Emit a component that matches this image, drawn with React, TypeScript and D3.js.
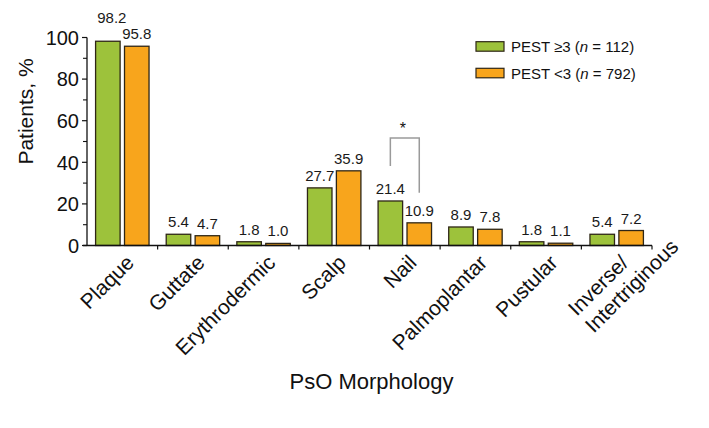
import React, { useEffect, useRef } from 'react';
import * as d3 from 'd3';

const categories = ['Plaque', 'Guttate', 'Erythrodermic', 'Scalp', 'Nail', 'Palmoplantar', 'Pustular', 'Inverse/|Intertriginous'];
const pestHigh = [98.2, 5.4, 1.8, 27.7, 21.4, 8.9, 1.8, 5.4];
const pestLow = [95.8, 4.7, 1.0, 35.9, 10.9, 7.8, 1.1, 7.2];
const seriesNames = ['PEST ≥3', 'PEST <3'];
const seriesN = [112, 792];
const yTicks = [0, 20, 40, 60, 80, 100];
const yMinorTicks = [10, 30, 50, 70, 90];
const significantCategory = 'Nail';
const yTitle = 'Patients, %';
const xTitle = 'PsO Morphology';

const W = 709;
const H = 428;
const COLORS = ['#9dc23b', '#f8a51c'];
const FONT = "'Liberation Sans', Arial, Helvetica, sans-serif";

export default function App() {
  const ref = useRef<SVGSVGElement | null>(null);

  useEffect(() => {
    document.body.style.margin = '0';
    const svg = d3.select(ref.current);
    svg.selectAll('*').remove();

    const x0 = 87, x1 = 652;
    const x = d3.scaleBand<string>().domain(categories).range([x0, x1]).padding(0);
    const xs = d3.scaleBand<string>().domain(['0', '1']).range([0, x.bandwidth()]).paddingInner(0.152).paddingOuter(0.297);
    const y = d3.scaleLinear().domain([0, 100]).range([245.5, 37.5]);

    const data = categories.map((c, i) => ({ c, vals: [pestHigh[i], pestLow[i]] }));

    // bars
    const g = svg.append('g');
    data.forEach((d) => {
      d.vals.forEach((v, j) => {
        g.append('rect')
          .attr('x', (x(d.c) as number) + (xs(String(j)) as number))
          .attr('y', y(v))
          .attr('width', xs.bandwidth())
          .attr('height', y(0) - y(v))
          .attr('fill', COLORS[j])
          .attr('stroke', '#2e2616')
          .attr('stroke-width', 1.3);
      });
    });

    // value labels
    data.forEach((d) => {
      d.vals.forEach((v, j) => {
        const other = d.vals[1 - j];
        const lift = v > 90 && other > 90 && v > other ? 11 : 0;
        g.append('text')
          .attr('x', (x(d.c) as number) + (xs(String(j)) as number) + xs.bandwidth() / 2 + (lift ? 4 : 0))
          .attr('y', y(v) - 7 - lift)
          .attr('text-anchor', 'middle')
          .attr('font-family', FONT)
          .attr('font-size', 15)
          .attr('fill', '#1a1a1a')
          .text(v.toFixed(1));
      });
    });

    // y axis
    const ax = svg.append('g');
    ax.append('line').attr('x1', x0).attr('x2', x0).attr('y1', y(100)).attr('y2', y(0)).attr('stroke', '#111').attr('stroke-width', 1.3);
    yTicks.forEach((t) => {
      ax.append('line').attr('x1', x0 - 5).attr('x2', x0).attr('y1', y(t)).attr('y2', y(t)).attr('stroke', '#111').attr('stroke-width', 1.2);
      ax.append('text').attr('x', x0 - 8).attr('y', y(t)).attr('dy', '0.36em')
        .attr('text-anchor', 'end').attr('font-family', FONT).attr('font-size', 20).attr('fill', '#111').text(String(t));
    });
    yMinorTicks.forEach((t) => {
      ax.append('line').attr('x1', x0 - 4).attr('x2', x0).attr('y1', y(t)).attr('y2', y(t)).attr('stroke', '#111').attr('stroke-width', 1.1);
    });

    // x axis
    ax.append('line').attr('x1', x0 - 4).attr('x2', x1).attr('y1', y(0)).attr('y2', y(0)).attr('stroke', '#111').attr('stroke-width', 1.3);
    categories.forEach((c) => {
      const xb = (x(c) as number) + x.bandwidth();
      ax.append('line').attr('x1', xb).attr('x2', xb).attr('y1', y(0)).attr('y2', y(0) + 4).attr('stroke', '#111').attr('stroke-width', 1.2);
    });

    // x labels
    categories.forEach((c) => {
      const cx = (x(c) as number) + x.bandwidth() / 2 + 13;
      const cy = 264;
      const lines = c.split('|');
      const tg = ax.append('g').attr('transform', `translate(${cx},${cy}) rotate(-45)`);
      const t1 = tg.append('text').attr('x', 0).attr('y', 0).attr('text-anchor', 'end')
        .attr('font-family', FONT).attr('font-size', 21).attr('fill', '#111').text(lines[0]);
      if (lines.length > 1) {
        const w1 = (t1.node() as SVGTextElement).getComputedTextLength();
        tg.append('text').attr('x', -w1).attr('y', 24).attr('text-anchor', 'start')
          .attr('font-family', FONT).attr('font-size', 21).attr('fill', '#111').text(lines[1]);
      }
    });

    // titles
    svg.append('text').attr('transform', `translate(33,${(y(0) + y(100)) / 2 - 30}) rotate(-90)`)
      .attr('text-anchor', 'middle').attr('font-family', FONT).attr('font-size', 21).attr('fill', '#111').text(yTitle);
    svg.append('text').attr('x', (x0 + x1) / 2 + 2).attr('y', 389)
      .attr('text-anchor', 'middle').attr('font-family', FONT).attr('font-size', 22).attr('fill', '#111').text(xTitle);

    // significance bracket
    const si = categories.indexOf(significantCategory);
    const bxL = (x(significantCategory) as number) + (xs('0') as number) + xs.bandwidth() / 2;
    const bxR = (x(significantCategory) as number) + (xs('1') as number) + xs.bandwidth() / 2;
    const yL = y(pestHigh[si]) - 35;
    const yR = y(pestLow[si]) - 30;
    const yTop = Math.min(yL, yR) - 28;
    svg.append('path').attr('d', `M${bxL},${yL}V${yTop}H${bxR}V${yR}`)
      .attr('fill', 'none').attr('stroke', '#9a9a9a').attr('stroke-width', 1.5);
    svg.append('text').attr('x', (bxL + bxR) / 2 - 2).attr('y', yTop - 4).attr('text-anchor', 'middle')
      .attr('font-family', FONT).attr('font-size', 16).attr('fill', '#111').text('*');

    // legend
    const lg = svg.append('g');
    seriesNames.forEach((s, j) => {
      const ly = 41.7 + j * 26.6;
      lg.append('rect').attr('x', 476).attr('y', ly).attr('width', 28).attr('height', 9.5)
        .attr('fill', COLORS[j]).attr('stroke', '#2e2616').attr('stroke-width', 1.2);
      const t = lg.append('text').attr('x', 511).attr('y', ly + 10.5)
        .attr('font-family', FONT).attr('font-size', 15).attr('fill', '#111');
      t.append('tspan').text(`${s} (`);
      t.append('tspan').attr('font-style', 'italic').text('n');
      t.append('tspan').text(` = ${seriesN[j]})`);
    });
  }, []);

  return <svg ref={ref} width={W} height={H} style={{ display: 'block', background: '#fff' }} />;
}
